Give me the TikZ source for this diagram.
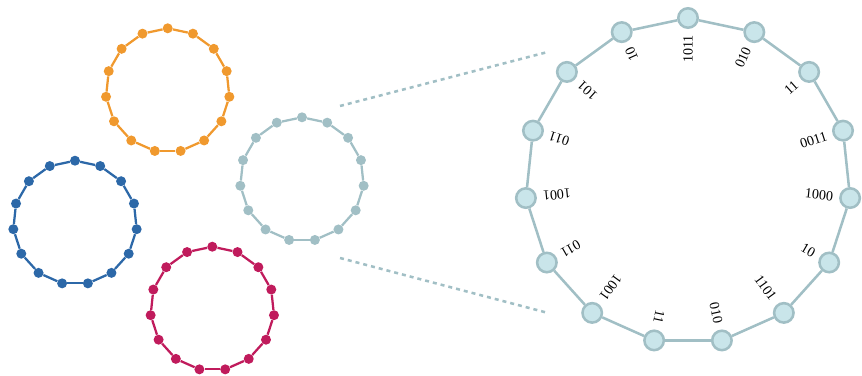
\documentclass[tikz,border=0pt]{standalone}
\usepackage{fontspec}
\setmainfont{Liberation Serif}
\usepackage{tikz}
\pgfdeclarelayer{edgelayer}
\pgfdeclarelayer{nodelayer}
\pgfsetlayers{edgelayer,nodelayer,main}
\definecolor{ringorange}{RGB}{240,153,46}
\definecolor{ringblue}{RGB}{44,104,168}
\definecolor{ringred}{RGB}{192,27,92}
\definecolor{ringgrey}{RGB}{161,191,197}
\definecolor{ringfill}{RGB}{201,229,234}
\tikzstyle{dot}=[circle, inner sep=0pt, minimum size=7.5pt]
\tikzstyle{orange dot}=[dot, fill=ringorange]
\tikzstyle{blue dot}=[dot, fill=ringblue]
\tikzstyle{red dot}=[dot, fill=ringred]
\tikzstyle{grey dot}=[dot, fill=ringgrey]
\tikzstyle{orange edge}=[draw=ringorange, line width=1.7pt]
\tikzstyle{blue edge}=[draw=ringblue, line width=1.7pt]
\tikzstyle{red edge}=[draw=ringred, line width=1.7pt]
\tikzstyle{grey edge}=[draw=ringgrey, line width=1.7pt]
\tikzstyle{vertex}=[circle, inner sep=0pt, minimum size=14.6pt, fill=ringfill, draw=ringgrey, line width=1.9pt]
\tikzstyle{edge}=[draw=ringgrey, line width=1.9pt]
\tikzstyle{zoomline}=[draw=ringgrey, line width=1.9pt, dash pattern=on 3pt off 3pt]
\tikzstyle{bits}=[inner sep=0pt, anchor=east, font=\fontsize{10.5pt}{12pt}\selectfont]

\begin{document}
\begin{tikzpicture}[x=0.75pt, y=0.75pt]
	\useasboundingbox (0,0) rectangle (862,-375);
	\begin{pgfonlayer}{nodelayer}
		% orange ring
		\begin{scope}[shift={(167.7,-90.3)}]
			\node [style=orange dot] (o0) at (90:62) {};
			\node [style=orange dot] (o1) at (66:62) {};
			\node [style=orange dot] (o2) at (42:62) {};
			\node [style=orange dot] (o3) at (18:62) {};
			\node [style=orange dot] (o4) at (-6:62) {};
			\node [style=orange dot] (o5) at (-30:62) {};
			\node [style=orange dot] (o6) at (-54:62) {};
			\node [style=orange dot] (o7) at (-78:62) {};
			\node [style=orange dot] (o8) at (-102:62) {};
			\node [style=orange dot] (o9) at (-126:62) {};
			\node [style=orange dot] (o10) at (-150:62) {};
			\node [style=orange dot] (o11) at (-174:62) {};
			\node [style=orange dot] (o12) at (162:62) {};
			\node [style=orange dot] (o13) at (138:62) {};
			\node [style=orange dot] (o14) at (114:62) {};
		\end{scope}
		% blue ring
		\begin{scope}[shift={(75,-222.7)}]
			\node [style=blue dot] (b0) at (90:62) {};
			\node [style=blue dot] (b1) at (66:62) {};
			\node [style=blue dot] (b2) at (42:62) {};
			\node [style=blue dot] (b3) at (18:62) {};
			\node [style=blue dot] (b4) at (-6:62) {};
			\node [style=blue dot] (b5) at (-30:62) {};
			\node [style=blue dot] (b6) at (-54:62) {};
			\node [style=blue dot] (b7) at (-78:62) {};
			\node [style=blue dot] (b8) at (-102:62) {};
			\node [style=blue dot] (b9) at (-126:62) {};
			\node [style=blue dot] (b10) at (-150:62) {};
			\node [style=blue dot] (b11) at (-174:62) {};
			\node [style=blue dot] (b12) at (162:62) {};
			\node [style=blue dot] (b13) at (138:62) {};
			\node [style=blue dot] (b14) at (114:62) {};
		\end{scope}
		% red ring
		\begin{scope}[shift={(212.3,-308.7)}]
			\node [style=red dot] (r0) at (90:62) {};
			\node [style=red dot] (r1) at (66:62) {};
			\node [style=red dot] (r2) at (42:62) {};
			\node [style=red dot] (r3) at (18:62) {};
			\node [style=red dot] (r4) at (-6:62) {};
			\node [style=red dot] (r5) at (-30:62) {};
			\node [style=red dot] (r6) at (-54:62) {};
			\node [style=red dot] (r7) at (-78:62) {};
			\node [style=red dot] (r8) at (-102:62) {};
			\node [style=red dot] (r9) at (-126:62) {};
			\node [style=red dot] (r10) at (-150:62) {};
			\node [style=red dot] (r11) at (-174:62) {};
			\node [style=red dot] (r12) at (162:62) {};
			\node [style=red dot] (r13) at (138:62) {};
			\node [style=red dot] (r14) at (114:62) {};
		\end{scope}
		% grey ring, shown enlarged on the right
		\begin{scope}[shift={(302,-179.3)}]
			\node [style=grey dot] (g0) at (90:62) {};
			\node [style=grey dot] (g1) at (66:62) {};
			\node [style=grey dot] (g2) at (42:62) {};
			\node [style=grey dot] (g3) at (18:62) {};
			\node [style=grey dot] (g4) at (-6:62) {};
			\node [style=grey dot] (g5) at (-30:62) {};
			\node [style=grey dot] (g6) at (-54:62) {};
			\node [style=grey dot] (g7) at (-78:62) {};
			\node [style=grey dot] (g8) at (-102:62) {};
			\node [style=grey dot] (g9) at (-126:62) {};
			\node [style=grey dot] (g10) at (-150:62) {};
			\node [style=grey dot] (g11) at (-174:62) {};
			\node [style=grey dot] (g12) at (162:62) {};
			\node [style=grey dot] (g13) at (138:62) {};
			\node [style=grey dot] (g14) at (114:62) {};
			\coordinate (gtop) at (62.6:82.6);
			\coordinate (gbot) at (-64.2:87.4);
		\end{scope}
		% big ring with its bit strings
		\begin{scope}[shift={(688,-181)}]
			\node [style=vertex] (n0) at (90:163) {};
			\node [style=vertex] (n1) at (66:163) {};
			\node [style=vertex] (n2) at (42:163) {};
			\node [style=vertex] (n3) at (18:163) {};
			\node [style=vertex] (n4) at (-6:163) {};
			\node [style=vertex] (n5) at (-30:163) {};
			\node [style=vertex] (n6) at (-54:163) {};
			\node [style=vertex] (n7) at (-78:163) {};
			\node [style=vertex] (n8) at (-102:163) {};
			\node [style=vertex] (n9) at (-126:163) {};
			\node [style=vertex] (n10) at (-150:163) {};
			\node [style=vertex] (n11) at (-174:163) {};
			\node [style=vertex] (n12) at (162:163) {};
			\node [style=vertex] (n13) at (138:163) {};
			\node [style=vertex] (n14) at (114:163) {};
			\node [style=bits, rotate=90] (l0) at (90:146) {1011};
			\node [style=bits, rotate=66] (l1) at (66:146) {010};
			\node [style=bits, rotate=42] (l2) at (42:146) {11};
			\node [style=bits, rotate=18] (l3) at (18:146) {0011};
			\node [style=bits, rotate=-6] (l4) at (-6:146) {1000};
			\node [style=bits, rotate=-30] (l5) at (-30:146) {10};
			\node [style=bits, rotate=-54] (l6) at (-54:146) {1101};
			\node [style=bits, rotate=-78] (l7) at (-78:146) {010};
			\node [style=bits, rotate=-102] (l8) at (-102:146) {11};
			\node [style=bits, rotate=-126] (l9) at (-126:146) {1001};
			\node [style=bits, rotate=-150] (l10) at (-150:146) {011};
			\node [style=bits, rotate=-174] (l11) at (-174:146) {1001};
			\node [style=bits, rotate=162] (l12) at (162:146) {011};
			\node [style=bits, rotate=138] (l13) at (138:146) {101};
			\node [style=bits, rotate=114] (l14) at (114:146) {10};
			\coordinate (ntop) at (137.3:190.4);
			\coordinate (nbot) at (-136.7:192.4);
		\end{scope}
	\end{pgfonlayer}
	\begin{pgfonlayer}{edgelayer}
		\draw [style=orange edge] (o0) to (o1);
		\draw [style=orange edge] (o1) to (o2);
		\draw [style=orange edge] (o2) to (o3);
		\draw [style=orange edge] (o3) to (o4);
		\draw [style=orange edge] (o4) to (o5);
		\draw [style=orange edge] (o5) to (o6);
		\draw [style=orange edge] (o6) to (o7);
		\draw [style=orange edge] (o7) to (o8);
		\draw [style=orange edge] (o8) to (o9);
		\draw [style=orange edge] (o9) to (o10);
		\draw [style=orange edge] (o10) to (o11);
		\draw [style=orange edge] (o11) to (o12);
		\draw [style=orange edge] (o12) to (o13);
		\draw [style=orange edge] (o13) to (o14);
		\draw [style=orange edge] (o14) to (o0);
		\draw [style=blue edge] (b0) to (b1);
		\draw [style=blue edge] (b1) to (b2);
		\draw [style=blue edge] (b2) to (b3);
		\draw [style=blue edge] (b3) to (b4);
		\draw [style=blue edge] (b4) to (b5);
		\draw [style=blue edge] (b5) to (b6);
		\draw [style=blue edge] (b6) to (b7);
		\draw [style=blue edge] (b7) to (b8);
		\draw [style=blue edge] (b8) to (b9);
		\draw [style=blue edge] (b9) to (b10);
		\draw [style=blue edge] (b10) to (b11);
		\draw [style=blue edge] (b11) to (b12);
		\draw [style=blue edge] (b12) to (b13);
		\draw [style=blue edge] (b13) to (b14);
		\draw [style=blue edge] (b14) to (b0);
		\draw [style=red edge] (r0) to (r1);
		\draw [style=red edge] (r1) to (r2);
		\draw [style=red edge] (r2) to (r3);
		\draw [style=red edge] (r3) to (r4);
		\draw [style=red edge] (r4) to (r5);
		\draw [style=red edge] (r5) to (r6);
		\draw [style=red edge] (r6) to (r7);
		\draw [style=red edge] (r7) to (r8);
		\draw [style=red edge] (r8) to (r9);
		\draw [style=red edge] (r9) to (r10);
		\draw [style=red edge] (r10) to (r11);
		\draw [style=red edge] (r11) to (r12);
		\draw [style=red edge] (r12) to (r13);
		\draw [style=red edge] (r13) to (r14);
		\draw [style=red edge] (r14) to (r0);
		\draw [style=grey edge] (g0) to (g1);
		\draw [style=grey edge] (g1) to (g2);
		\draw [style=grey edge] (g2) to (g3);
		\draw [style=grey edge] (g3) to (g4);
		\draw [style=grey edge] (g4) to (g5);
		\draw [style=grey edge] (g5) to (g6);
		\draw [style=grey edge] (g6) to (g7);
		\draw [style=grey edge] (g7) to (g8);
		\draw [style=grey edge] (g8) to (g9);
		\draw [style=grey edge] (g9) to (g10);
		\draw [style=grey edge] (g10) to (g11);
		\draw [style=grey edge] (g11) to (g12);
		\draw [style=grey edge] (g12) to (g13);
		\draw [style=grey edge] (g13) to (g14);
		\draw [style=grey edge] (g14) to (g0);
		\draw [style=edge] (n0) to (n1);
		\draw [style=edge] (n1) to (n2);
		\draw [style=edge] (n2) to (n3);
		\draw [style=edge] (n3) to (n4);
		\draw [style=edge] (n4) to (n5);
		\draw [style=edge] (n5) to (n6);
		\draw [style=edge] (n6) to (n7);
		\draw [style=edge] (n7) to (n8);
		\draw [style=edge] (n8) to (n9);
		\draw [style=edge] (n9) to (n10);
		\draw [style=edge] (n10) to (n11);
		\draw [style=edge] (n11) to (n12);
		\draw [style=edge] (n12) to (n13);
		\draw [style=edge] (n13) to (n14);
		\draw [style=edge] (n14) to (n0);
		\draw [style=zoomline] (gtop) to (ntop);
		\draw [style=zoomline] (gbot) to (nbot);
	\end{pgfonlayer}
\end{tikzpicture}
\end{document}
